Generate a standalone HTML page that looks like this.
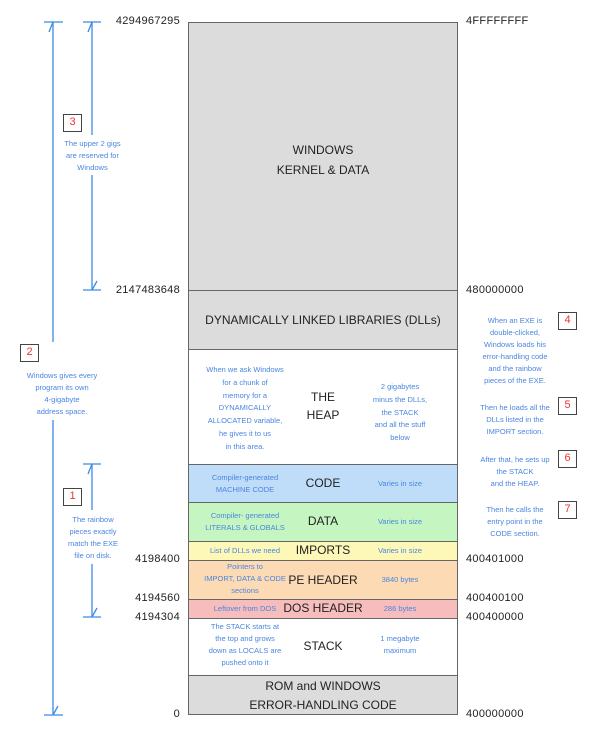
<!DOCTYPE html>
<html><head><style>
*{margin:0;padding:0;box-sizing:border-box}
body{width:602px;height:737px;background:#fff;position:relative;overflow:hidden;font-family:"Liberation Sans",sans-serif;color:#222}
.a{position:absolute}
.row{position:absolute;left:188px;width:270px;border:1.5px solid #666;}
.t{position:absolute;text-align:center;color:#4a86e0;font-size:7.5px;line-height:12px}
.b{position:absolute;text-align:center;font-size:12px;color:#222}
.n{position:absolute;font-size:11px;color:#222;letter-spacing:0.3px}
.box{position:absolute;width:19px;height:18px;border:1.5px solid #444;color:#e33;font-size:11px;text-align:center;line-height:15px;background:#fff}
</style></head><body>
<svg class="a" style="left:0;top:0" width="602" height="737">
<g stroke="#3b8ae8" stroke-width="1.3" fill="none">
<line x1="53" y1="22" x2="53" y2="342"/><line x1="53" y1="420" x2="53" y2="715"/>
<line x1="44" y1="22" x2="63" y2="22"/><line x1="44" y1="715" x2="63" y2="715"/>
<path d="M49 32 L53 22 M53 715 L58 706"/>
<line x1="92" y1="22" x2="92" y2="135"/><line x1="92" y1="175" x2="92" y2="290"/>
<line x1="83" y1="22" x2="101" y2="22"/><line x1="83" y1="290" x2="101" y2="290"/>
<path d="M88 32 L92 22 M92 290 L97 281"/>
<line x1="92" y1="464" x2="92" y2="510"/><line x1="92" y1="564" x2="92" y2="617"/>
<line x1="83" y1="464" x2="101" y2="464"/><line x1="83" y1="617" x2="101" y2="617"/>
<path d="M88 474 L92 464 M92 617 L97 608"/>
</g></svg>

<div class="row" style="top:22px;height:269px;background:#dcdcdc"></div>
<div class="row" style="top:290px;height:60px;background:#dcdcdc"></div>
<div class="row" style="top:349px;height:116px;background:#fff"></div>
<div class="row" style="top:464px;height:39px;background:#bfdcf8"></div>
<div class="row" style="top:502px;height:40px;background:#c5f5c0"></div>
<div class="row" style="top:541px;height:20px;background:#fdf8b8"></div>
<div class="row" style="top:560px;height:40px;background:#fcdab4"></div>
<div class="row" style="top:599px;height:20px;background:#f7bcbc"></div>
<div class="row" style="top:618px;height:58px;background:#fff"></div>
<div class="row" style="top:675px;height:40px;background:#dcdcdc"></div>

<div class="b" style="left:188px;width:270px;top:140px;line-height:20px">WINDOWS<br>KERNEL &amp; DATA</div>
<div class="b" style="left:188px;width:270px;top:313px">DYNAMICALLY LINKED LIBRARIES (DLLs)</div>
<div class="t" style="left:200px;width:90px;top:364px;line-height:12.8px">When we ask Windows<br>for a chunk of<br>memory for a<br>DYNAMICALLY<br>ALLOCATED variable,<br>he gives it to us<br>in this area.</div>
<div class="b" style="left:293px;width:60px;top:388px;line-height:18px">THE<br>HEAP</div>
<div class="t" style="left:360px;width:80px;top:381px;line-height:12.8px">2 gigabytes<br>minus the DLLs,<br>the STACK<br>and all the stuff<br>below</div>

<div class="t" style="left:195px;width:100px;top:472px">Compiler-generated<br>MACHINE CODE</div>
<div class="b" style="left:293px;width:60px;top:476px">CODE</div>
<div class="t" style="left:360px;width:80px;top:478px">Varies in size</div>
<div class="t" style="left:195px;width:100px;top:510px">Compiler- generated<br>LITERALS &amp; GLOBALS</div>
<div class="b" style="left:293px;width:60px;top:514px">DATA</div>
<div class="t" style="left:360px;width:80px;top:516px">Varies in size</div>
<div class="t" style="left:195px;width:100px;top:545px">List of DLLs we need</div>
<div class="b" style="left:283px;width:80px;top:543px">IMPORTS</div>
<div class="t" style="left:360px;width:80px;top:545px">Varies in size</div>
<div class="t" style="left:192px;width:106px;top:561px">Pointers to<br>IMPORT, DATA &amp; CODE<br>sections</div>
<div class="b" style="left:283px;width:80px;top:573px">PE HEADER</div>
<div class="t" style="left:360px;width:80px;top:574px">3840 bytes</div>
<div class="t" style="left:195px;width:100px;top:603px">Leftover from DOS</div>
<div class="b" style="left:278px;width:90px;top:601px">DOS HEADER</div>
<div class="t" style="left:360px;width:80px;top:603px">286 bytes</div>
<div class="t" style="left:195px;width:100px;top:621px">The STACK starts at<br>the top and grows<br>down as LOCALS are<br>pushed onto it</div>
<div class="b" style="left:293px;width:60px;top:639px">STACK</div>
<div class="t" style="left:360px;width:80px;top:633px">1 megabyte<br>maximum</div>
<div class="b" style="left:188px;width:270px;top:677px;line-height:19px">ROM and WINDOWS<br>ERROR-HANDLING CODE</div>

<div class="n" style="right:422px;top:15px">4294967295</div>
<div class="n" style="right:422px;top:284px">2147483648</div>
<div class="n" style="right:422px;top:553px">4198400</div>
<div class="n" style="right:422px;top:592px">4194560</div>
<div class="n" style="right:422px;top:611px">4194304</div>
<div class="n" style="right:422px;top:708px">0</div>
<div class="n" style="left:466px;top:15px">4FFFFFFFF</div>
<div class="n" style="left:466px;top:284px">480000000</div>
<div class="n" style="left:466px;top:553px">400401000</div>
<div class="n" style="left:466px;top:592px">400400100</div>
<div class="n" style="left:466px;top:611px">400400000</div>
<div class="n" style="left:466px;top:708px">400000000</div>

<div class="box" style="left:63px;top:114px">3</div>
<div class="t" style="left:50px;width:85px;top:138px">The upper 2 gigs<br>are reserved for<br>Windows</div>
<div class="box" style="left:20px;top:344px">2</div>
<div class="t" style="left:18px;width:88px;top:370px">Windows gives every<br>program its own<br>4-gigabyte<br>address space.</div>
<div class="box" style="left:63px;top:488px">1</div>
<div class="t" style="left:60px;width:66px;top:514px">The rainbow<br>pieces exactly<br>match the EXE<br>file on disk.</div>

<div class="box" style="left:558px;top:312px">4</div>
<div class="t" style="left:475px;width:80px;top:315px">When an EXE is<br>double-clicked,<br>Windows loads his<br>error-handling code<br>and the rainbow<br>pieces of the EXE.</div>
<div class="box" style="left:558px;top:397px">5</div>
<div class="t" style="left:475px;width:80px;top:402px">Then he loads all the<br>DLLs listed in the<br>IMPORT section.</div>
<div class="box" style="left:558px;top:450px">6</div>
<div class="t" style="left:475px;width:80px;top:454px">After that, he sets up<br>the STACK<br>and the HEAP.</div>
<div class="box" style="left:558px;top:501px">7</div>
<div class="t" style="left:475px;width:80px;top:504px">Then he calls the<br>entry point in the<br>CODE section.</div>
</body></html>
